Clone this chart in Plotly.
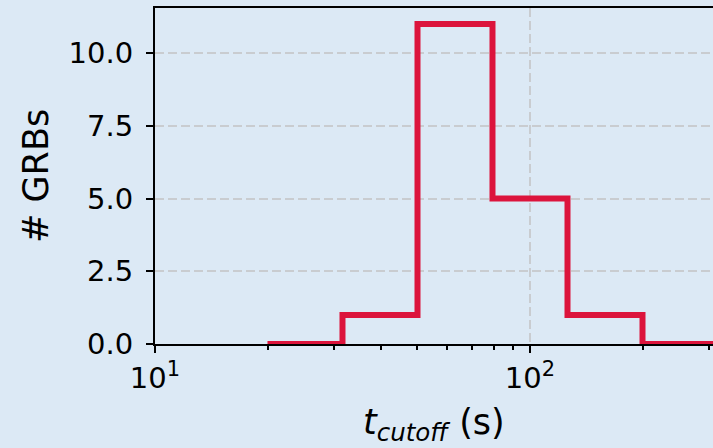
import numpy as np
import plotly.graph_objects as go

# Data
bin_edges = [19.95, 31.62, 50.12, 79.43, 125.89, 199.53, 316.23]
counts = [0, 1, 11, 5, 1, 0]
x_tick_vals = [10, 100]
x_tick_text = ["10<sup><span style='font-size:21px'>1</span></sup>",
               "10<sup><span style='font-size:21px'>2</span></sup>"]
x_minor_vals = [20, 30, 40, 50, 60, 70, 80, 90, 200, 300]
y_tick_vals = [0, 2.5, 5, 7.5, 10]
y_tick_text = ["0.0", "2.5", "5.0", "7.5", "10.0"]

BG = "#dce9f5"
RED = "#dc143c"
FONT = "DejaVu Sans"

fig = go.Figure()
fig.add_trace(go.Scatter(
    x=bin_edges,
    y=counts + [0],
    mode="lines",
    line=dict(color=RED, width=6, shape="hv"),
    showlegend=False,
    hoverinfo="skip",
))

W, H = 713, 448
L, R, T, B = 155, 0, 8, 104
pw = W - L - R

fig.update_layout(
    width=W, height=H,
    margin=dict(l=L, r=R, t=T, b=B),
    paper_bgcolor=BG, plot_bgcolor=BG,
    font=dict(family=FONT, color="black", size=29),
)
fig.update_xaxes(
    type="log",
    range=[1, 1 + pw / 375.0],
    tickmode="array", tickvals=x_tick_vals, ticktext=x_tick_text,
    ticks="outside", ticklen=7, tickwidth=2, tickcolor="black",
    showline=True, linecolor="black", linewidth=2, mirror=True,
    showgrid=True, gridcolor="#c9ccd0", griddash="9px,4px", gridwidth=1.5,
    zeroline=False,
    tickfont=dict(size=29),
    minor=dict(tickmode="array", tickvals=x_minor_vals, ticks="outside",
               ticklen=4, tickwidth=1.5, tickcolor="black", showgrid=False),
)
fig.update_yaxes(
    range=[0, 11.55],
    tickmode="array", tickvals=y_tick_vals, ticktext=y_tick_text,
    ticks="outside", ticklen=7, tickwidth=2, tickcolor="black",
    showline=True, linecolor="black", linewidth=2, mirror=False,
    showgrid=True, gridcolor="#c9ccd0", griddash="9px,4px", gridwidth=1.5,
    zeroline=False,
    tickfont=dict(size=29),
    ticklabelstandoff=7,
)
fig.add_annotation(
    text="<i>t</i><sub><i>cutoff</i></sub> (s)",
    xref="paper", yref="paper", x=0.5, y=0,
    xanchor="center", yanchor="middle", yshift=-80,
    showarrow=False, font=dict(size=35, family=FONT),
)
fig.add_annotation(
    text="# GRBs",
    xref="paper", yref="paper", x=(36 - L) / pw, y=0.5,
    xanchor="center", yanchor="middle", textangle=-90,
    showarrow=False, font=dict(size=35, family=FONT),
)
fig.write_html("out.html")
